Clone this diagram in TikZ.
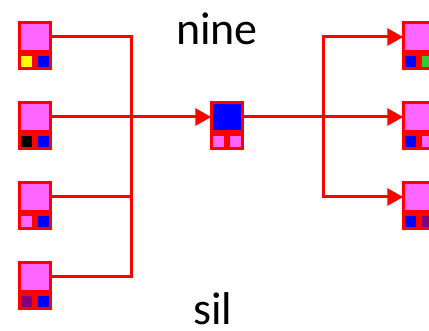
\documentclass[tikz,border=0pt]{standalone}
\usepackage{fontspec}
\setmainfont{Carlito}
\usetikzlibrary{arrows.meta}
\definecolor{pk}{HTML}{FF66FF}
\definecolor{bl}{HTML}{0000FF}
\definecolor{yl}{HTML}{FFFF00}
\definecolor{gr}{HTML}{33CC33}
\definecolor{pu}{HTML}{800080}
\definecolor{rd}{HTML}{FF0000}
\tikzset{
  topcell/.style={draw=rd, line width=2.6pt, minimum width=31.5pt, minimum height=29.5pt, inner sep=0pt, outer sep=0pt},
  subcell/.style={draw=rd, line width=2.6pt, minimum width=14.5pt, minimum height=14.5pt, inner sep=0pt, outer sep=0pt},
  conn/.style={draw=rd, line width=3pt},
  arr/.style={conn, -{Triangle[length=16pt,width=17pt]}},
  lbl/.style={font=\fontsize{46}{50}\selectfont, anchor=base, inner sep=0pt}
}
% \cell{name}{x0}{y0}{top}{c1}{c2}
\newcommand{\cell}[6]{%
  \node[topcell, fill=#4] (#1) at (#2+17, #3+16) {};
  \node[subcell, fill=#5] (#1a) at (#2+8.5, #3+40.5) {};
  \node[subcell, fill=#6] (#1b) at (#2+25.5, #3+40.5) {};
}
\begin{document}
\begin{tikzpicture}[x=1pt,y=-1pt]
\useasboundingbox (0,0) rectangle (429,331);
\cell{L1}{18}{21}{pk}{yl}{bl}
\cell{L2}{18}{101}{pk}{black}{bl}
\cell{L3}{18}{181}{pk}{pk}{bl}
\cell{L4}{18}{261}{pk}{pu}{bl}
\cell{C}{210}{101}{bl}{pk}{pk}
\cell{R1}{402}{21}{pk}{bl}{gr}
\cell{R2}{402}{101}{pk}{bl}{pk}
\cell{R3}{402}{181}{pk}{bl}{pu}
\coordinate (jl) at (131,117);
\coordinate (jr) at (323,117);
\draw[conn] (L1.east) -| (jl) |- (L4.east);
\draw[conn] (L3.east) -- (L3.east -| jl);
\draw[arr] (L2.east) -- (C.west);
\draw[conn] (C.east) -- (jr);
\draw[arr] (jr) |- (R1.west);
\draw[arr] (jr) -- (R2.west);
\draw[arr] (jr) |- (R3.west);
\node[lbl] (nine) at (217,45) {nine};
\node[lbl] (sil) at (213,325) {sil};
\end{tikzpicture}
\end{document}
